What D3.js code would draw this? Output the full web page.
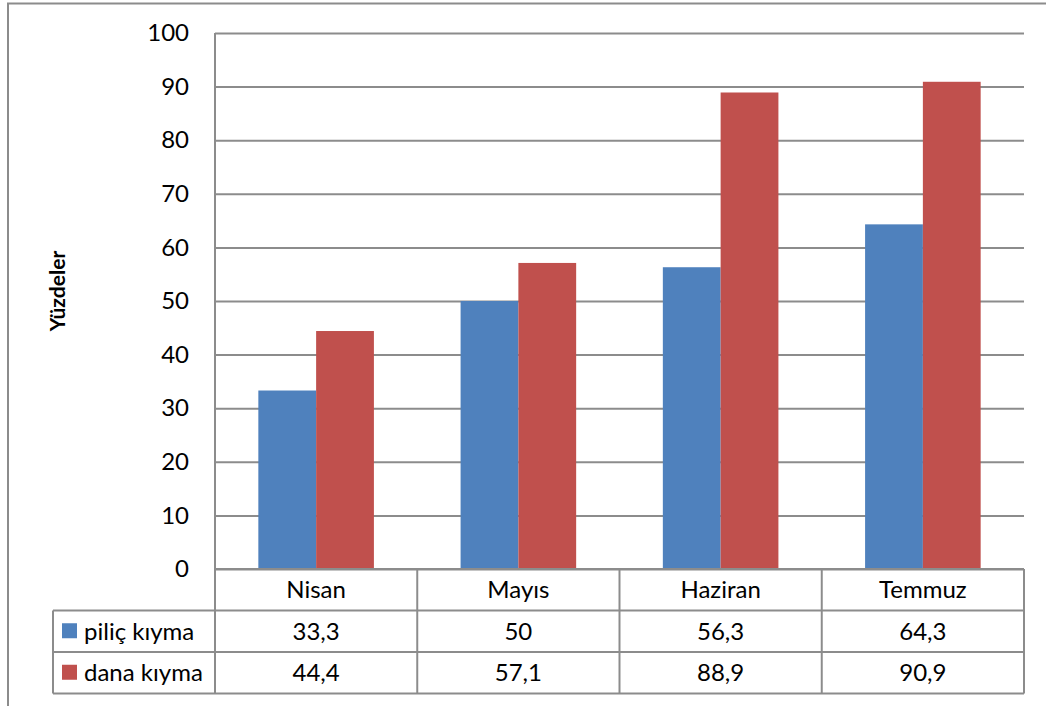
<!DOCTYPE html>
<html>
<head>
<meta charset="utf-8">
<script src="https://cdn.jsdelivr.net/npm/d3@7"></script>
<style>
  html, body { margin: 0; padding: 0; background: #fff; }
  svg { display: block; }
  text { font-family: Lato, "Open Sans", sans-serif; fill: #000; }
</style>
</head>
<body>
<svg id="chart" width="1046" height="706"></svg>
<script>
// Monthly percentages for two kinds of minced meat
const categories = ["Nisan", "Mayıs", "Haziran", "Temmuz"];
const seriesNames = ["piliç kıyma", "dana kıyma"];
const pilicValues = [33.3, 50, 56.3, 64.3];
const danaValues = [44.4, 57.1, 88.9, 90.9];
const seriesColors = ["#4F81BD", "#C0504D"];
const yTicks = [0, 10, 20, 30, 40, 50, 60, 70, 80, 90, 100];
const yTitle = "Yüzdeler";

const seriesValues = [pilicValues, danaValues];
const fmt = v => String(v).replace(".", ",");

const svg = d3.select("#chart");
const gridColor = "#8c8c8c";
const fs = 24;

const plot = { left: 215, right: 1024, top: 33, bottom: 569 };
const rowH = 41.5;
const tableLeft = 53;
const tableBottom = plot.bottom + rowH * 3;

const x = d3.scaleBand().domain(categories).range([plot.left, plot.right]).padding(0);
const xs = d3.scaleBand().domain(seriesNames).range([0, x.bandwidth()])
  .paddingInner(0).paddingOuter(0.75);
const y = d3.scaleLinear().domain([0, 100]).range([plot.bottom, plot.top]);

// outer frame
svg.append("path")
  .attr("d", `M8,706 L8,3.5 L1046,3.5`)
  .attr("fill", "none").attr("stroke", gridColor).attr("stroke-width", 2);

// value axis with gridlines
const yAxis = svg.append("g")
  .attr("transform", `translate(${plot.left},0)`)
  .call(d3.axisLeft(y).tickValues(yTicks)
    .tickSize(-(plot.right - plot.left)).tickPadding(26));
yAxis.select(".domain").remove();
yAxis.selectAll(".tick line").attr("stroke", gridColor).attr("stroke-width", 2);
yAxis.selectAll(".tick text")
  .attr("font-size", fs).attr("fill", "#000")
  .style("font-family", "Lato, sans-serif");

// axis title
svg.append("text")
  .attr("transform", `translate(65,291) rotate(-90)`)
  .attr("text-anchor", "middle")
  .attr("font-size", 21).attr("font-weight", "bold")
  .text(yTitle);

// bars
const groups = svg.append("g").selectAll("g")
  .data(categories)
  .join("g")
  .attr("transform", d => `translate(${x(d)},0)`);

groups.selectAll("rect")
  .data((c, ci) => seriesNames.map((s, si) => ({ s, si, v: seriesValues[si][ci] })))
  .join("rect")
  .attr("x", d => xs(d.s))
  .attr("width", xs.bandwidth())
  .attr("y", d => y(d.v))
  .attr("height", d => y(0) - y(d.v))
  .attr("fill", d => seriesColors[d.si]);

// data table grid
const tg = svg.append("g").attr("fill", "none").attr("stroke", gridColor).attr("stroke-width", 2);
// category row top (x axis) and lower rows
tg.append("line").attr("x1", plot.left).attr("x2", plot.right)
  .attr("y1", plot.bottom).attr("y2", plot.bottom);
[1, 2, 3].forEach(i => {
  tg.append("line").attr("x1", tableLeft).attr("x2", plot.right)
    .attr("y1", plot.bottom + rowH * i).attr("y2", plot.bottom + rowH * i);
});
// vertical lines
tg.append("line").attr("x1", plot.left).attr("x2", plot.left)
  .attr("y1", plot.top).attr("y2", tableBottom);
tg.append("line").attr("x1", tableLeft).attr("x2", tableLeft)
  .attr("y1", plot.bottom + rowH).attr("y2", tableBottom);
categories.forEach(c => {
  const xr = x(c) + x.bandwidth();
  tg.append("line").attr("x1", xr).attr("x2", xr)
    .attr("y1", plot.bottom).attr("y2", tableBottom);
});

const baseline = rowCenter => rowCenter + fs * 0.36;

// category labels
svg.append("g").selectAll("text")
  .data(categories)
  .join("text")
  .attr("x", d => x(d) + x.bandwidth() / 2)
  .attr("y", baseline(plot.bottom + rowH / 2))
  .attr("text-anchor", "middle")
  .attr("font-size", fs)
  .text(d => d);

// series rows: legend key, name and values
seriesNames.forEach((name, si) => {
  const cy = plot.bottom + rowH * (si + 1) + rowH / 2;
  svg.append("rect")
    .attr("x", 62).attr("y", cy - 8).attr("width", 15).attr("height", 15)
    .attr("fill", seriesColors[si]);
  svg.append("text")
    .attr("x", 84).attr("y", baseline(cy))
    .attr("font-size", fs)
    .text(name);
  svg.append("g").selectAll("text")
    .data(categories)
    .join("text")
    .attr("x", d => x(d) + x.bandwidth() / 2)
    .attr("y", baseline(cy))
    .attr("text-anchor", "middle")
    .attr("font-size", fs)
    .text((d, ci) => fmt(seriesValues[si][ci]));
});
</script>
</body>
</html>
